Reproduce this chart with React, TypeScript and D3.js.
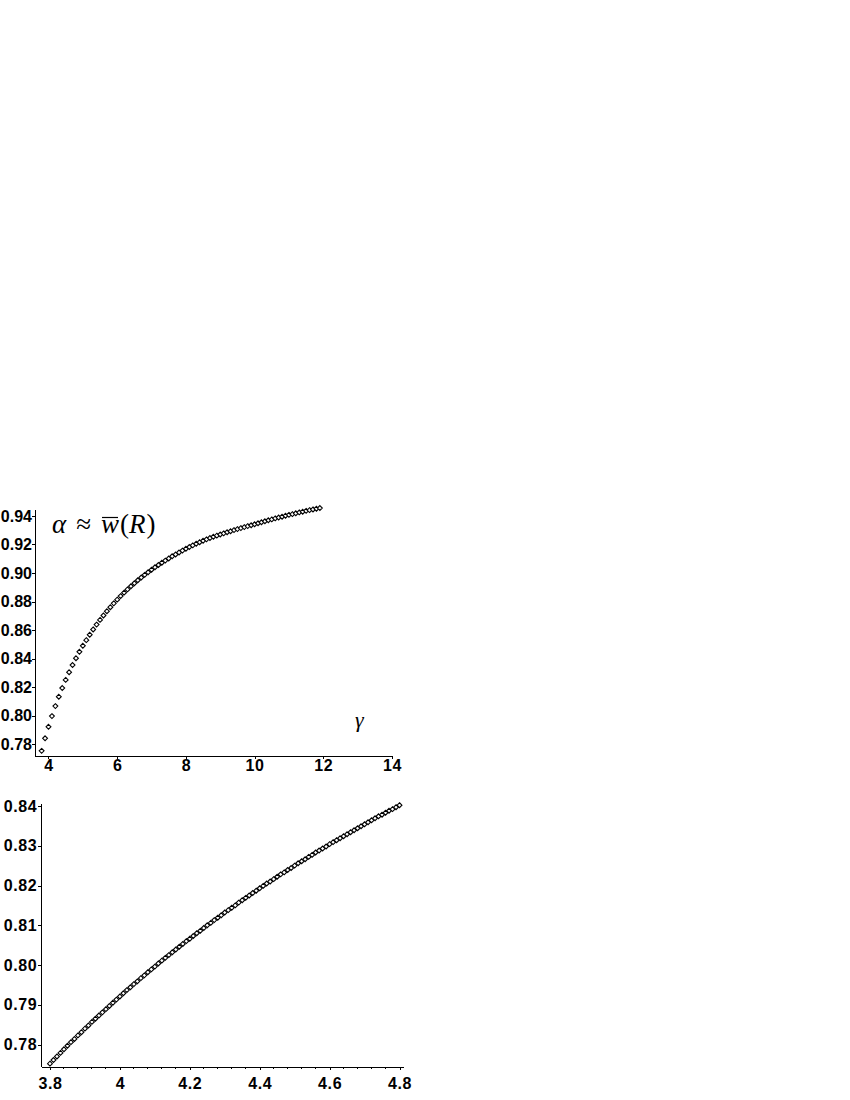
import React, { useEffect, useRef } from 'react'
import * as d3 from 'd3'

// top panel: alpha vs gamma, wide range
const topGamma = [
  3.8, 3.9, 4.0, 4.1, 4.2, 4.3, 4.4, 4.5, 4.6, 4.7,
  4.8, 4.9, 5.0, 5.1, 5.2, 5.3, 5.4, 5.5, 5.6, 5.7,
  5.8, 5.9, 6.0, 6.1, 6.2, 6.3, 6.4, 6.5, 6.6, 6.7,
  6.8, 6.9, 7.0, 7.1, 7.2, 7.3, 7.4, 7.5, 7.6, 7.7,
  7.8, 7.9, 8.0, 8.1, 8.2, 8.3, 8.4, 8.5, 8.6, 8.7,
  8.8, 8.9, 9.0, 9.1, 9.2, 9.3, 9.4, 9.5, 9.6, 9.7,
  9.8, 9.9, 10.0, 10.1, 10.2, 10.3, 10.4, 10.5, 10.6, 10.7,
  10.8, 10.9, 11.0, 11.1, 11.2, 11.3, 11.4, 11.5, 11.6, 11.7,
  11.8, 11.9
]
const topAlpha = [
  0.7752, 0.7840, 0.7921, 0.7996, 0.8066, 0.8132, 0.8193, 0.8250, 0.8304, 0.8354,
  0.8402, 0.8447, 0.8489, 0.8529, 0.8567, 0.8604, 0.8638, 0.8671, 0.8702, 0.8732,
  0.8760, 0.8787, 0.8813, 0.8838, 0.8862, 0.8885, 0.8907, 0.8928, 0.8949, 0.8968,
  0.8987, 0.9005, 0.9023, 0.9040, 0.9056, 0.9072, 0.9087, 0.9102, 0.9117, 0.9130,
  0.9144, 0.9157, 0.9170, 0.9182, 0.9194, 0.9205, 0.9216, 0.9226, 0.9236, 0.9245,
  0.9254, 0.9262, 0.9270, 0.9278, 0.9286, 0.9293, 0.9301, 0.9308, 0.9315, 0.9322,
  0.9329, 0.9335, 0.9342, 0.9349, 0.9356, 0.9363, 0.9370, 0.9376, 0.9383, 0.9389,
  0.9395, 0.9402, 0.9408, 0.9413, 0.9419, 0.9425, 0.9430, 0.9436, 0.9441, 0.9446,
  0.9451, 0.9456
]
const topXTicks = [4, 6, 8, 10, 12, 14]
const topYTicks = [0.78, 0.80, 0.82, 0.84, 0.86, 0.88, 0.90, 0.92, 0.94]

// bottom panel: close-up on 3.8..4.8
const zoomGamma = [
  3.80, 3.81, 3.82, 3.83, 3.84, 3.85, 3.86, 3.87, 3.88, 3.89,
  3.90, 3.91, 3.92, 3.93, 3.94, 3.95, 3.96, 3.97, 3.98, 3.99,
  4.00, 4.01, 4.02, 4.03, 4.04, 4.05, 4.06, 4.07, 4.08, 4.09,
  4.10, 4.11, 4.12, 4.13, 4.14, 4.15, 4.16, 4.17, 4.18, 4.19,
  4.20, 4.21, 4.22, 4.23, 4.24, 4.25, 4.26, 4.27, 4.28, 4.29,
  4.30, 4.31, 4.32, 4.33, 4.34, 4.35, 4.36, 4.37, 4.38, 4.39,
  4.40, 4.41, 4.42, 4.43, 4.44, 4.45, 4.46, 4.47, 4.48, 4.49,
  4.50, 4.51, 4.52, 4.53, 4.54, 4.55, 4.56, 4.57, 4.58, 4.59,
  4.60, 4.61, 4.62, 4.63, 4.64, 4.65, 4.66, 4.67, 4.68, 4.69,
  4.70, 4.71, 4.72, 4.73, 4.74, 4.75, 4.76, 4.77, 4.78, 4.79,
  4.80
]
const zoomAlpha = [
  0.7752, 0.7761, 0.7770, 0.7779, 0.7788, 0.7797, 0.7806, 0.7814, 0.7823, 0.7831,
  0.7840, 0.7848, 0.7857, 0.7865, 0.7873, 0.7881, 0.7889, 0.7897, 0.7905, 0.7913,
  0.7921, 0.7929, 0.7937, 0.7944, 0.7952, 0.7959, 0.7967, 0.7974, 0.7982, 0.7989,
  0.7996, 0.8004, 0.8011, 0.8018, 0.8025, 0.8032, 0.8039, 0.8046, 0.8053, 0.8060,
  0.8066, 0.8073, 0.8080, 0.8086, 0.8093, 0.8100, 0.8106, 0.8113, 0.8119, 0.8125,
  0.8132, 0.8138, 0.8144, 0.8150, 0.8157, 0.8163, 0.8169, 0.8175, 0.8181, 0.8187,
  0.8193, 0.8199, 0.8205, 0.8210, 0.8216, 0.8222, 0.8228, 0.8233, 0.8239, 0.8244,
  0.8250, 0.8256, 0.8261, 0.8266, 0.8272, 0.8277, 0.8283, 0.8288, 0.8293, 0.8298,
  0.8304, 0.8309, 0.8314, 0.8319, 0.8324, 0.8329, 0.8334, 0.8339, 0.8344, 0.8349,
  0.8354, 0.8359, 0.8364, 0.8369, 0.8374, 0.8378, 0.8383, 0.8388, 0.8392, 0.8397,
  0.8402
]
const zoomXTicks = [3.8, 4, 4.2, 4.4, 4.6, 4.8]
const zoomXMinor = [3.84, 3.88, 3.92, 3.96, 4.04, 4.08, 4.12, 4.16, 4.24, 4.28, 4.32, 4.36, 4.44, 4.48, 4.52, 4.56, 4.64, 4.68, 4.72, 4.76]
const zoomYTicks = [0.78, 0.79, 0.80, 0.81, 0.82, 0.83, 0.84]

const tickFont = '"Liberation Sans", Arial, sans-serif'
const mathFont = '"Liberation Serif", "Times New Roman", serif'

function drawPanel(svg: any, o: any){
  const x = d3.scaleLinear().domain(o.xDomain).range(o.xRange)
  const y = d3.scaleLinear().domain(o.yDomain).range(o.yRange)
  const g = svg.append('g')

  const styleAxis = (ax: any, ls: number) => {
    ax.selectAll('path,line').attr('stroke', '#000').attr('stroke-width', 1).attr('shape-rendering', 'crispEdges')
    ax.selectAll('text').attr('fill', '#000').attr('font-family', tickFont).attr('font-weight', 'bold')
      .attr('font-size', 16).attr('letter-spacing', ls)
  }

  const xAx = g.append('g').attr('transform', `translate(0,${o.yRange[0]})`)
    .call(d3.axisBottom(x).tickValues(o.xTicks).tickFormat(o.xFormat).tickSize(3).tickSizeOuter(0).tickPadding(o.xPad))
  styleAxis(xAx, 0.6)
  if (o.xMinor) {
    g.append('g').selectAll('line').data(o.xMinor).join('line')
      .attr('x1', (d: number) => x(d)).attr('x2', (d: number) => x(d))
      .attr('y1', o.yRange[0]).attr('y2', o.yRange[0] + 2)
      .attr('stroke', '#000').attr('shape-rendering', 'crispEdges')
  }
  const yAx = g.append('g').attr('transform', `translate(${o.xRange[0]},0)`)
    .call(d3.axisLeft(y).tickValues(o.yTicks).tickFormat(d3.format('.2f')).tickSize(3).tickSizeOuter(0).tickPadding(o.yPad))
  styleAxis(yAx, o.yLs)

  const pts = o.gamma.map((gm: number, i: number) => ({ g: gm, a: o.alpha[i] }))
  const sym = d3.symbol().type(d3.symbolDiamond2).size(15)
  g.append('g').selectAll('path').data(pts).join('path')
    .attr('transform', (d: any) => `translate(${x(d.g)},${y(d.a)})`)
    .attr('d', sym())
    .attr('fill', '#fff').attr('stroke', '#000').attr('stroke-width', 1.1)
  return g
}

export default function App(){
  const ref = useRef<SVGSVGElement>(null)

  useEffect(() => {
    const svg = d3.select(ref.current)
    svg.selectAll('*').remove()

    drawPanel(svg, {
      gamma: topGamma, alpha: topAlpha,
      xDomain: [3.607, 14], xRange: [35, 392],
      yDomain: [0.7716, 0.9449], yRange: [756, 509],
      xTicks: topXTicks, yTicks: topYTicks,
      xFormat: d3.format('d'), xPad: 1, yPad: 0, yLs: 0
    })

    drawPanel(svg, {
      gamma: zoomGamma, alpha: zoomAlpha,
      xDomain: [3.7752, 4.81], xRange: [41.3, 403],
      yDomain: [0.77448, 0.84075], yRange: [1066.5, 803],
      xTicks: zoomXTicks, yTicks: zoomYTicks, xMinor: zoomXMinor,
      xFormat: (d: number) => String(d), xPad: 8, yPad: 1, yLs: 0.6
    })

    // formula label
    const eq = svg.append('text').attr('x', 52).attr('y', 533)
      .attr('font-family', mathFont).attr('font-size', 27).attr('fill', '#000')
    eq.append('tspan').attr('font-style', 'italic').text('α')
    eq.append('tspan').attr('dx', 10).text('≈')
    const w = eq.append('tspan').attr('dx', 10).attr('font-style', 'italic').text('w')
    eq.append('tspan').attr('dx', 1).text('(')
    eq.append('tspan').attr('font-style', 'italic').text('R')
    eq.append('tspan').attr('dx', 1).text(')')
    const wb = (w.node() as any).getBBox()
    svg.append('line')
      .attr('x1', wb.x + 1).attr('x2', wb.x + wb.width - 1)
      .attr('y1', 517.5).attr('y2', 517.5)
      .attr('stroke', '#000').attr('stroke-width', 1.2)

    svg.append('text').attr('x', 355).attr('y', 727)
      .attr('font-family', mathFont).attr('font-size', 22).attr('font-style', 'italic')
      .attr('fill', '#000').text('γ')
  }, [])

  return (
    <svg ref={ref} width={850} height={1100}
      style={{ position: 'absolute', left: 0, top: 0, background: '#fff' }} />
  )
}
